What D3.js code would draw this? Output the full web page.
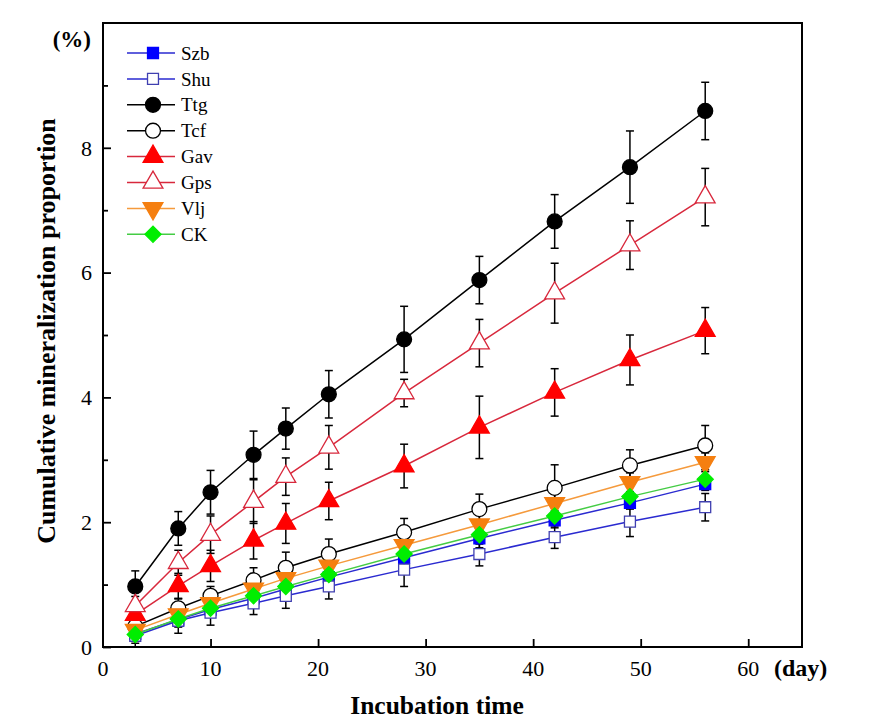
<!DOCTYPE html>
<html>
<head>
<meta charset="utf-8">
<script src="https://cdn.jsdelivr.net/npm/d3@7"></script>
<style>
  body { margin: 0; background: #fff; }
  text { font-family: "Liberation Serif", "Times New Roman", serif; }
</style>
</head>
<body>
<div id="vis"></div>
<script>
const days = [3, 7, 10, 14, 17, 21, 28, 35, 42, 49, 56];

const Szb = [0.21, 0.44, 0.60, 0.78, 0.93, 1.12, 1.43, 1.74, 2.03, 2.31, 2.61];
const SzbErr = [0.10, 0.12, 0.12, 0.15, 0.15, 0.15, 0.15, 0.15, 0.12, 0.10, 0.10];
const Shu = [0.18, 0.42, 0.55, 0.70, 0.82, 0.97, 1.24, 1.49, 1.76, 2.01, 2.24];
const ShuErr = [0.12, 0.20, 0.20, 0.18, 0.20, 0.20, 0.27, 0.19, 0.18, 0.24, 0.22];
const Ttg = [0.97, 1.90, 2.48, 3.08, 3.50, 4.05, 4.93, 5.88, 6.82, 7.69, 8.59];
const TtgErr = [0.25, 0.27, 0.35, 0.38, 0.33, 0.38, 0.53, 0.38, 0.43, 0.58, 0.46];
const Tcf = [0.33, 0.62, 0.82, 1.07, 1.27, 1.49, 1.84, 2.21, 2.55, 2.91, 3.23];
const TcfErr = [0.12, 0.15, 0.15, 0.20, 0.25, 0.24, 0.22, 0.24, 0.37, 0.25, 0.32];
const Gav = [0.52, 0.98, 1.30, 1.71, 1.98, 2.34, 2.90, 3.52, 4.08, 4.60, 5.07];
const GavErr = [0.15, 0.20, 0.25, 0.30, 0.32, 0.30, 0.35, 0.50, 0.38, 0.40, 0.37];
const Gps = [0.66, 1.35, 1.80, 2.33, 2.73, 3.20, 4.07, 4.87, 5.67, 6.44, 7.21];
const GpsErr = [0.15, 0.20, 0.30, 0.35, 0.30, 0.35, 0.22, 0.38, 0.48, 0.39, 0.46];
const Vlj = [0.27, 0.52, 0.70, 0.93, 1.10, 1.30, 1.63, 1.96, 2.30, 2.64, 2.96];
const VljErr = [0.10, 0.12, 0.12, 0.15, 0.15, 0.15, 0.15, 0.15, 0.15, 0.15, 0.15];
const CK = [0.20, 0.45, 0.62, 0.82, 0.97, 1.16, 1.49, 1.80, 2.10, 2.41, 2.69];
const CKErr = [0.20, 0.12, 0.12, 0.15, 0.15, 0.15, 0.15, 0.15, 0.15, 0.15, 0.15];

const xTicks = [0, 10, 20, 30, 40, 50, 60];
const yTicks = [0, 2, 4, 6, 8];
const yMinor = [1, 3, 5, 7, 9];

const series = [
  {name: 'Szb', values: Szb, err: SzbErr, line: '#2a2ad0', shape: 'square', fill: '#0000ff', stroke: '#0000ff'},
  {name: 'Shu', values: Shu, err: ShuErr, line: '#2a2ad0', shape: 'square', fill: '#fff', stroke: '#4040b0'},
  {name: 'Ttg', values: Ttg, err: TtgErr, line: '#000', shape: 'circle', fill: '#000', stroke: '#000'},
  {name: 'Tcf', values: Tcf, err: TcfErr, line: '#000', shape: 'circle', fill: '#fff', stroke: '#000'},
  {name: 'Gav', values: Gav, err: GavErr, line: '#d8283c', shape: 'triangle', fill: '#ff0000', stroke: '#ff0000'},
  {name: 'Gps', values: Gps, err: GpsErr, line: '#d8283c', shape: 'triangle', fill: '#fff', stroke: '#d8283c'},
  {name: 'Vlj', values: Vlj, err: VljErr, line: '#f59a3c', shape: 'down', fill: '#f57f10', stroke: '#f57f10'},
  {name: 'CK', values: CK, err: CKErr, line: '#44cc44', shape: 'diamond', fill: '#00ee00', stroke: '#00ee00'}
];

const W = 877, H = 721;
const margin = {top: 23, left: 103, right: 75, bottom: 74};
const width = W - margin.left - margin.right;
const height = H - margin.top - margin.bottom;

const svg = d3.select('#vis').append('svg')
    .attr('width', W)
    .attr('height', H);

const g = svg.append('g')
    .attr('transform', `translate(${margin.left}, ${margin.top})`);

const x = d3.scaleLinear().domain([0, 65]).range([0, width]);
const y = d3.scaleLinear().domain([0, 10]).range([height, 0]);

function symbolPath(shape) {
  if (shape === 'square') return d3.symbol(d3.symbolSquare, 120)();
  if (shape === 'circle') return d3.symbol(d3.symbolCircle, 175)();
  if (shape === 'triangle' || shape === 'down') return d3.symbol(d3.symbolTriangle, 170)();
  if (shape === 'diamond') return d3.symbol(d3.symbolSquare, 130)();
}
function symbolRotate(shape) {
  if (shape === 'down') return ' rotate(180)';
  if (shape === 'diamond') return ' rotate(45)';
  return '';
}

// ticks (inward)
g.append('g')
    .call(d3.axisLeft(y).tickValues(yTicks).tickSize(-8).tickFormat(''))
    .call(a => a.select('.domain').remove());
g.append('g')
    .call(d3.axisLeft(y).tickValues(yMinor).tickSize(-5).tickFormat(''))
    .call(a => a.select('.domain').remove());
g.append('g')
    .attr('transform', `translate(0, ${height})`)
    .call(d3.axisBottom(x).tickValues(xTicks.slice(1)).tickSize(-8).tickFormat(''))
    .call(a => a.select('.domain').remove());
g.selectAll('.tick line').attr('stroke', '#000').attr('stroke-width', 1.8);

// tick labels
g.selectAll('.ylab')
  .data(yTicks)
  .join('text')
    .attr('class', 'ylab')
    .attr('x', -11)
    .attr('y', d => y(d))
    .attr('dy', '0.35em')
    .attr('text-anchor', 'end')
    .attr('font-size', 22)
    .text(d => d);

g.selectAll('.xlab')
  .data(xTicks)
  .join('text')
    .attr('class', 'xlab')
    .attr('x', d => x(d))
    .attr('y', height + 29)
    .attr('text-anchor', 'middle')
    .attr('font-size', 22)
    .text(d => d);

// error bars
series.forEach(s => {
  const eg = g.append('g').attr('stroke', '#000').attr('stroke-width', 1.5);
  s.values.forEach((v, i) => {
    const cx = x(days[i]);
    const y0 = y(v - s.err[i]), y1 = y(v + s.err[i]);
    eg.append('line').attr('x1', cx).attr('x2', cx).attr('y1', y0).attr('y2', y1);
    eg.append('line').attr('x1', cx - 4).attr('x2', cx + 4).attr('y1', y0).attr('y2', y0);
    eg.append('line').attr('x1', cx - 4).attr('x2', cx + 4).attr('y1', y1).attr('y2', y1);
  });
});

// lines
const line = d3.line()
    .x((d, i) => x(days[i]))
    .y(d => y(d));

series.forEach(s => {
  g.append('path')
      .datum(s.values)
      .attr('d', line)
      .attr('fill', 'none')
      .attr('stroke', s.line)
      .attr('stroke-width', 1.5);
});

// markers
series.forEach(s => {
  g.selectAll(null)
    .data(s.values)
    .join('path')
      .attr('d', symbolPath(s.shape))
      .attr('transform', (d, i) => `translate(${x(days[i])}, ${y(d)})` + symbolRotate(s.shape))
      .attr('fill', s.fill)
      .attr('stroke', s.stroke)
      .attr('stroke-width', 1.3);
});

// frame
g.append('rect')
    .attr('width', width)
    .attr('height', height)
    .attr('fill', 'none')
    .attr('stroke', '#000')
    .attr('stroke-width', 2);

// legend
const legend = g.append('g').attr('transform', 'translate(24, 30)');
series.forEach((s, i) => {
  const row = legend.append('g').attr('transform', `translate(0, ${i * 25.9})`);
  row.append('line')
      .attr('x1', 0).attr('x2', 48)
      .attr('stroke', s.line)
      .attr('stroke-width', 1.5);
  row.append('path')
      .attr('d', symbolPath(s.shape))
      .attr('transform', 'translate(26, 0)' + symbolRotate(s.shape))
      .attr('fill', s.fill)
      .attr('stroke', s.stroke)
      .attr('stroke-width', 1.3);
  row.append('text')
      .attr('x', 54)
      .attr('dy', '0.35em')
      .attr('font-size', 19)
      .text(s.name);
});

// axis titles
svg.append('text')
    .attr('transform', `translate(55, 331) rotate(-90)`)
    .attr('text-anchor', 'middle')
    .attr('font-size', 26)
    .attr('font-weight', 'bold')
    .text('Cumulative mineralization proportion');

svg.append('text')
    .attr('x', 91)
    .attr('y', 47)
    .attr('text-anchor', 'end')
    .attr('font-size', 23)
    .attr('font-weight', 'bold')
    .text('(%)');

svg.append('text')
    .attr('x', 437)
    .attr('y', 714)
    .attr('text-anchor', 'middle')
    .attr('font-size', 25.5)
    .attr('font-weight', 'bold')
    .text('Incubation time');

svg.append('text')
    .attr('x', 774)
    .attr('y', 676)
    .attr('font-size', 24)
    .attr('font-weight', 'bold')
    .text('(day)');
</script>
</body>
</html>
